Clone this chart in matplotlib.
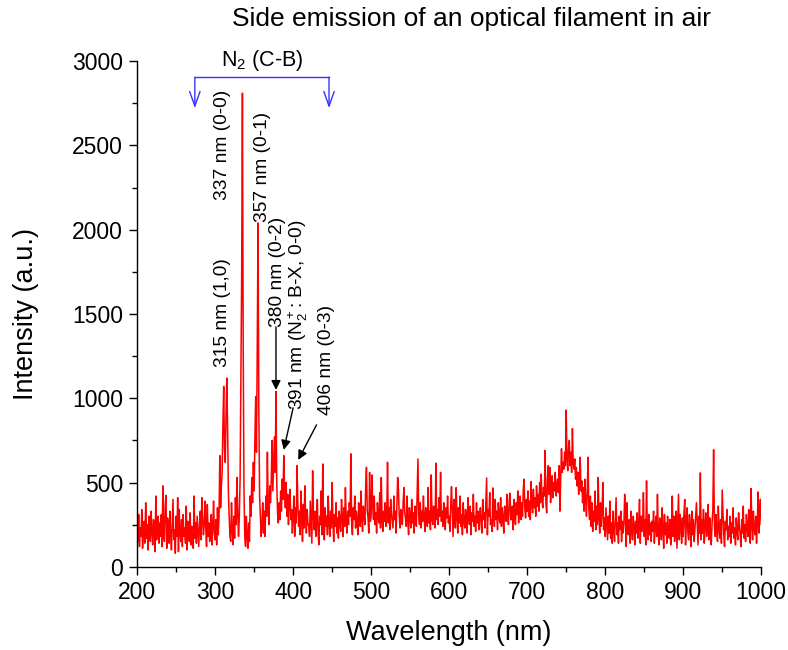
import numpy as np
import matplotlib
matplotlib.use("Agg")
import matplotlib.pyplot as plt

plt.rcParams["font.family"] = ["Liberation Sans", "DejaVu Sans"]
plt.rcParams["mathtext.fontset"] = "custom"
plt.rcParams["mathtext.rm"] = "Liberation Sans"
plt.rcParams["mathtext.it"] = "Liberation Sans:italic"
plt.rcParams["mathtext.bf"] = "Liberation Sans:bold"

# Spectrometer grid: 1 nm steps from 200 to 1000 nm
wavelength = np.arange(200, 1001, 1)

# Measured intensity (a.u.), one value per nm, split by spectral region
uv_region = [  # 200-299 nm
    260, 150, 310, 120, 230, 180, 340, 110, 200, 270, 140, 380, 170, 250, 100, 300, 190, 150, 330, 210,
    130, 280, 240, 90, 420, 160, 220, 300, 140, 260, 180, 310, 120, 480, 200, 150, 370, 423, 110, 290,
    250, 140, 330, 190, 100, 260, 400, 160, 220, 80, 300, 180, 410, 90, 340, 200, 150, 280, 120, 310,
    180, 230, 140, 360, 100, 270, 200, 150, 320, 130, 240, 190, 110, 420, 170, 260, 140, 300, 210, 120,
    250, 330, 160, 410, 280, 190, 250, 390, 230, 120, 370, 180, 260, 150, 210, 310, 130, 240, 390, 200,
]
n2_bands = [  # 300-419 nm, second positive system of N2 and first negative of N2+
    160, 280, 130, 350, 190, 300, 660, 350, 480, 560, 850, 1070, 700, 620, 900, 1120, 820, 450, 300, 180,
    150, 380, 220, 130, 300, 170, 410, 250, 530, 320, 180, 300, 520, 1150, 1700, 2810, 1300, 450, 180, 120,
    300, 180, 110, 260, 150, 420, 300, 530, 380, 620, 450, 760, 1010, 680, 1300, 2040, 950, 420, 300, 180,
    250, 380, 200, 330, 180, 420, 300, 680, 350, 250, 480, 380, 520, 750, 450, 620, 770, 560, 1040, 500,
    320, 260, 380, 280, 450, 330, 520, 400, 660, 470, 350, 500, 300, 430, 250, 380, 460, 280, 340, 200,
    300, 420, 180, 350, 260, 600, 380, 240, 330, 190, 450, 280, 150, 370, 230, 480, 300, 200, 340, 250,
]
visible_region = [  # 420-679 nm
    250, 180, 390, 270, 140, 570, 310, 220, 330, 180, 260, 400, 200, 130, 300, 250, 450, 190, 610, 220,
    160, 350, 240, 300, 190, 420, 260, 180, 330, 230, 500, 270, 150, 310, 240, 380, 200, 290, 170, 330,
    260, 210, 400, 300, 180, 350, 240, 470, 280, 200, 330, 250, 380, 300, 670, 260, 190, 350, 280, 420,
    230, 330, 270, 190, 380, 300, 240, 450, 280, 210, 360, 310, 250, 480, 590, 330, 290, 200, 560, 270,
    310, 545, 360, 280, 420, 250, 320, 200, 380, 300, 260, 440, 230, 530, 290, 210, 330, 270, 380, 240,
    300, 620, 260, 350, 220, 400, 310, 270, 230, 420, 280, 330, 200, 370, 530, 460, 300, 230, 340, 270,
    250, 380, 470, 320, 290, 240, 420, 270, 190, 350, 300, 230, 400, 260, 320, 200, 360, 280, 240, 450,
    640, 300, 250, 380, 230, 330, 270, 420, 290, 210, 350, 310, 240, 470, 260, 330, 220, 545, 280, 250,
    360, 300, 230, 615, 280, 340, 250, 410, 300, 560, 270, 330, 240, 380, 310, 220, 350, 290, 420, 260,
    300, 210, 370, 475, 330, 180, 400, 280, 230, 470, 300, 200, 350, 260, 420, 240, 310, 190, 380, 270,
    230, 340, 280, 200, 410, 300, 250, 360, 190, 320, 270, 430, 240, 300, 210, 380, 260, 330, 220, 290,
    350, 250, 200, 400, 280, 320, 230, 370, 527, 190, 340, 300, 440, 250, 280, 210, 468, 310, 240, 400,
    280, 330, 220, 380, 300, 260, 410, 240, 350, 290, 200, 360, 320, 270, 430, 300, 250, 390, 437, 280,
]
nir_hump = [  # 680-819 nm, broad continuum around 750 nm
    280, 360, 220, 400, 300, 250, 380, 310, 450, 260, 330, 420, 280, 380, 300, 460, 520, 340, 290, 400,
    330, 450, 300, 390, 280, 505, 370, 320, 460, 350, 410, 300, 480, 360, 430, 330, 500, 380, 550, 400,
    350, 470, 420, 690, 380, 320, 520, 600, 430, 590, 380, 470, 540, 410, 500, 450, 560, 420, 480, 520,
    440, 600, 330, 530, 700, 560, 620, 580, 680, 600, 930, 640, 570, 700, 750, 600, 680, 560, 820, 620,
    580, 640, 520, 590, 480, 560, 430, 520, 650, 450, 510, 380, 470, 330, 520, 400, 300, 450, 650, 350,
    280, 420, 240, 380, 210, 330, 270, 450, 220, 360, 250, 530, 300, 200, 380, 240, 330, 500, 220, 290,
    180, 350, 250, 160, 300, 200, 390, 170, 260, 140, 330, 220, 150, 280, 410, 190, 260, 140, 300, 220,
]
nir_tail = [  # 820-1000 nm
    330, 150, 270, 200, 250, 430, 300, 120, 380, 200, 190, 280, 140, 330, 220, 160, 300, 240, 130, 270,
    200, 320, 170, 260, 400, 140, 300, 210, 250, 440, 180, 280, 130, 510, 230, 160, 310, 190, 260, 150,
    270, 210, 330, 140, 240, 300, 180, 430, 200, 130, 290, 240, 160, 350, 220, 110, 310, 190, 260, 140,
    300, 200, 170, 280, 130, 240, 420, 180, 300, 150, 230, 330, 110, 270, 430, 160, 310, 240, 140, 290,
    180, 320, 400, 130, 270, 350, 200, 160, 310, 240, 120, 330, 190, 280, 150, 220, 300, 380, 250, 130,
    300, 200, 557, 160, 280, 200, 340, 140, 250, 320, 180, 230, 370, 160, 290, 200, 130, 260, 340, 694,
    240, 180, 310, 210, 150, 360, 230, 170, 280, 140, 456, 330, 190, 120, 270, 220, 340, 160, 240, 180,
    300, 140, 260, 200, 350, 170, 230, 130, 290, 210, 160, 320, 240, 190, 120, 280, 200, 360, 170, 250,
    150, 310, 230, 180, 340, 210, 140, 464, 250, 160, 330, 220, 190, 300, 140, 260, 444, 200, 330, 400,
    250,
]

intensity = np.array(uv_region + n2_bands + visible_region + nir_hump + nir_tail, dtype=float)
assert intensity.size == wavelength.size

fig = plt.figure(figsize=(7.88, 6.50), dpi=100)
ax = fig.add_axes([0.174, 0.128, 0.792, 0.778])

ax.plot(wavelength, intensity, color="#ff0000", lw=1.1)

ax.set_xlim(200, 1000)
ax.set_ylim(0, 3000)
ax.set_xticks(np.arange(200, 1001, 100))
ax.set_xticks(np.arange(250, 1000, 100), minor=True)
ax.set_yticks(np.arange(0, 3001, 500))
ax.set_yticks(np.arange(250, 3000, 500), minor=True)
for side in ("top", "right"):
    ax.spines[side].set_visible(False)
for side in ("left", "bottom"):
    ax.spines[side].set_linewidth(1.0)
ax.tick_params(which="major", direction="out", length=6, width=1.0, labelsize=16.5, pad=4)
ax.tick_params(which="minor", direction="out", length=3.5, width=1.0)

ax.set_xlabel("Wavelength (nm)", fontsize=19.5, labelpad=12)
ax.set_ylabel("Intensity (a.u.)", fontsize=19.5, labelpad=24)
fig.text(0.598, 0.971, "Side emission of an optical filament in air",
         fontsize=19, ha="center", va="center")

# Band labels
label_kw = dict(rotation=90, ha="center", va="bottom", fontsize=13.8, color="black")
ax.text(310, 1186, "315 nm (1,0)", **label_kw)
ax.text(309, 2175, "337 nm (0-0)", **label_kw)
ax.text(361, 2045, "357 nm (0-1)", **label_kw)
ax.text(380.5, 1423, "380 nm (0-2)", **label_kw)
ax.text(406, 931, "391 nm (N$_2^+$: B-X, 0-0)", **label_kw)
ax.text(443, 901, "406 nm (0-3)", **label_kw)

arrow_kw = dict(arrowstyle="-|>", color="black", lw=1.0, mutation_scale=14,
                shrinkA=0, shrinkB=0)
ax.annotate("", xy=(378, 1049), xytext=(378, 1423), arrowprops=arrow_kw)
ax.annotate("", xy=(388, 694), xytext=(400, 943), arrowprops=arrow_kw)
ax.annotate("", xy=(406.5, 634), xytext=(430, 842), arrowprops=arrow_kw)

# N2 (C-B) band system bracket
bracket_left, bracket_right = 274, 446
bracket_top, bracket_tip = 2905, 2721
ax.plot([bracket_left, bracket_right], [bracket_top, bracket_top], color="#3333ff", lw=1.0)
bracket_kw = dict(arrowstyle="->,head_length=0.7,head_width=0.25", color="#3333ff", lw=1.0,
                  mutation_scale=15, shrinkA=0, shrinkB=0)
for bx in (bracket_left, bracket_right):
    ax.annotate("", xy=(bx, bracket_tip), xytext=(bx, bracket_top), arrowprops=bracket_kw)
ax.text(360, 2930, "N$_2$ (C-B)", ha="center", va="bottom", fontsize=15.5)

fig.savefig("out.png", dpi=100)
